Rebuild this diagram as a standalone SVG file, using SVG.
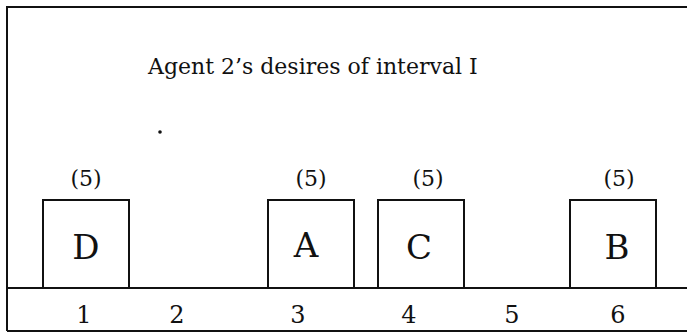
<svg xmlns="http://www.w3.org/2000/svg" width="687" height="332" viewBox="0 0 687 332">
<style>
text{font-family:"DejaVu Serif",serif;fill:#111}
.title{font-size:22px}
.lbl{font-size:34px;text-anchor:middle}
.w{font-size:22px;text-anchor:middle}
.n{font-size:24px;text-anchor:middle}
.box{fill:#fff;stroke:#111;stroke-width:2}
.ln{stroke:#111;stroke-width:2;fill:none}
</style>
<rect width="687" height="332" fill="#fff"/>
<g id="frame">
<path class="ln" d="M7,7 H687 M7,6 V331 M7,331 H687"/>
<path class="ln" d="M7,288 H687"/>
</g>
<text class="title" x="148" y="74">Agent 2’s desires of interval I</text>
<circle cx="160" cy="132" r="1.8" fill="#111"/>
<g id="node-D"><rect class="box" x="43" y="200" width="86" height="88"/><text class="lbl" x="86" y="259">D</text><text class="w" x="86" y="186">(5)</text></g>
<g id="node-A"><rect class="box" x="268" y="200" width="86" height="88"/><text class="lbl" x="306" y="257">A</text><text class="w" x="311" y="186">(5)</text></g>
<g id="node-C"><rect class="box" x="378" y="200" width="86" height="88"/><text class="lbl" x="419" y="259">C</text><text class="w" x="428" y="186">(5)</text></g>
<g id="node-B"><rect class="box" x="570" y="200" width="86" height="88"/><text class="lbl" x="617" y="259">B</text><text class="w" x="619" y="186">(5)</text></g>
<g id="axis">
<text class="n" x="84" y="323">1</text>
<text class="n" x="177" y="323">2</text>
<text class="n" x="298" y="323">3</text>
<text class="n" x="409" y="323">4</text>
<text class="n" x="512" y="323">5</text>
<text class="n" x="618" y="323">6</text>
</g>
<g id="connectors"></g>
</svg>
